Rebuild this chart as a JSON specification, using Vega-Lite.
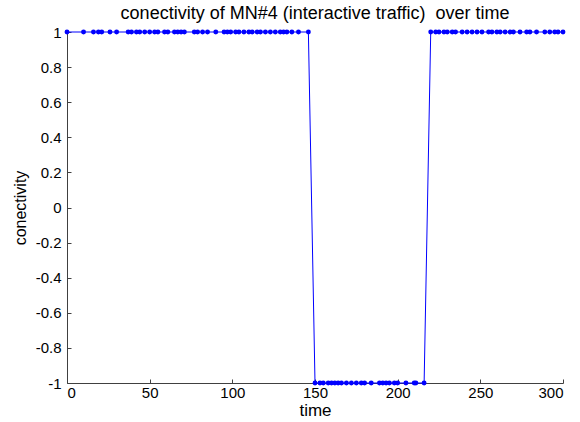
{
  "$schema": "https://vega.github.io/schema/vega-lite/v6.json",
  "width": 496,
  "height": 351,
  "autosize": "none",
  "padding": {"left": 67, "top": 32, "right": 17, "bottom": 39},
  "background": "white",
  "config": {
    "view": {"stroke": null},
    "font": "Liberation Sans"
  },
  "title": {
    "text": "conectivity of MN#4 (interactive traffic)\u00a0 over time",
    "fontSize": 18,
    "fontWeight": "normal",
    "font": "Liberation Sans",
    "color": "black",
    "offset": 2,
    "anchor": "middle"
  },
  "data": {
    "values": [
      {"time": 0, "c": 1}, {"time": 10, "c": 1}, {"time": 16, "c": 1}, {"time": 19, "c": 1}, {"time": 21, "c": 1},
      {"time": 26, "c": 1}, {"time": 30, "c": 1}, {"time": 37, "c": 1}, {"time": 39, "c": 1}, {"time": 42, "c": 1},
      {"time": 44, "c": 1}, {"time": 47, "c": 1}, {"time": 50, "c": 1}, {"time": 53, "c": 1}, {"time": 55, "c": 1},
      {"time": 59, "c": 1}, {"time": 61, "c": 1}, {"time": 65, "c": 1}, {"time": 67, "c": 1}, {"time": 69, "c": 1},
      {"time": 71, "c": 1}, {"time": 77, "c": 1}, {"time": 79, "c": 1}, {"time": 82, "c": 1}, {"time": 85, "c": 1},
      {"time": 90, "c": 1}, {"time": 95, "c": 1}, {"time": 97, "c": 1}, {"time": 99, "c": 1}, {"time": 102, "c": 1},
      {"time": 104, "c": 1}, {"time": 107, "c": 1}, {"time": 110, "c": 1}, {"time": 112, "c": 1}, {"time": 115, "c": 1},
      {"time": 117, "c": 1}, {"time": 120, "c": 1}, {"time": 123, "c": 1}, {"time": 126, "c": 1}, {"time": 129, "c": 1},
      {"time": 131, "c": 1}, {"time": 133, "c": 1}, {"time": 136, "c": 1}, {"time": 140, "c": 1}, {"time": 146, "c": 1},
      {"time": 150, "c": -1}, {"time": 153, "c": -1}, {"time": 155, "c": -1}, {"time": 158, "c": -1}, {"time": 160, "c": -1},
      {"time": 162, "c": -1}, {"time": 164, "c": -1}, {"time": 166, "c": -1}, {"time": 169, "c": -1}, {"time": 172, "c": -1},
      {"time": 175, "c": -1}, {"time": 178, "c": -1}, {"time": 180, "c": -1}, {"time": 184, "c": -1}, {"time": 189, "c": -1},
      {"time": 191, "c": -1}, {"time": 193, "c": -1}, {"time": 195, "c": -1}, {"time": 198, "c": -1}, {"time": 200, "c": -1},
      {"time": 205, "c": -1}, {"time": 210, "c": -1}, {"time": 211, "c": -1}, {"time": 216, "c": -1},
      {"time": 220, "c": 1}, {"time": 223, "c": 1}, {"time": 225, "c": 1}, {"time": 228, "c": 1}, {"time": 230, "c": 1},
      {"time": 233, "c": 1}, {"time": 235, "c": 1}, {"time": 239, "c": 1}, {"time": 242, "c": 1}, {"time": 245, "c": 1},
      {"time": 248, "c": 1}, {"time": 251, "c": 1}, {"time": 255, "c": 1}, {"time": 257, "c": 1}, {"time": 260, "c": 1},
      {"time": 262, "c": 1}, {"time": 265, "c": 1}, {"time": 268, "c": 1}, {"time": 270, "c": 1}, {"time": 274, "c": 1},
      {"time": 278, "c": 1}, {"time": 280, "c": 1}, {"time": 284, "c": 1}, {"time": 289, "c": 1}, {"time": 292, "c": 1},
      {"time": 295, "c": 1}, {"time": 297, "c": 1}, {"time": 300, "c": 1}
    ]
  },
  "mark": {
    "type": "line",
    "color": "#0000ff",
    "strokeWidth": 1,
    "point": {"filled": true, "size": 24, "color": "#0000ff", "opacity": 1},
    "clip": false
  },
  "encoding": {
    "x": {
      "field": "time",
      "type": "quantitative",
      "scale": {"domain": [0, 300], "nice": false, "zero": false},
      "axis": {
        "title": "time",
        "values": [0, 50, 100, 150, 200, 250, 300],
        "grid": false,
        "domainColor": "#404040",
        "tickColor": "#404040",
        "tickSize": -4,
        "labelPadding": 6,
        "labelFontSize": 15,
        "labelColor": "black",
        "labelFont": "Liberation Sans",
        "titleFontSize": 17,
        "titleFontWeight": "normal",
        "titleColor": "black",
        "titleFont": "Liberation Sans",
        "titlePadding": 2
      }
    },
    "y": {
      "field": "c",
      "type": "quantitative",
      "scale": {"domain": [-1, 1], "nice": false, "zero": false},
      "axis": {
        "title": "conectivity",
        "values": [-1, -0.8, -0.6, -0.4, -0.2, 0, 0.2, 0.4, 0.6, 0.8, 1],
        "labelExpr": "replace(format(datum.value, '.1~f'), '\u2212', '-')",
        "grid": false,
        "domainColor": "#404040",
        "tickColor": "#404040",
        "tickSize": -4,
        "labelPadding": 10,
        "labelFontSize": 15,
        "labelColor": "black",
        "labelFont": "Liberation Sans",
        "titleFontSize": 16,
        "titleFontWeight": "normal",
        "titleColor": "black",
        "titleFont": "Liberation Sans",
        "titlePadding": 7
      }
    }
  }
}
